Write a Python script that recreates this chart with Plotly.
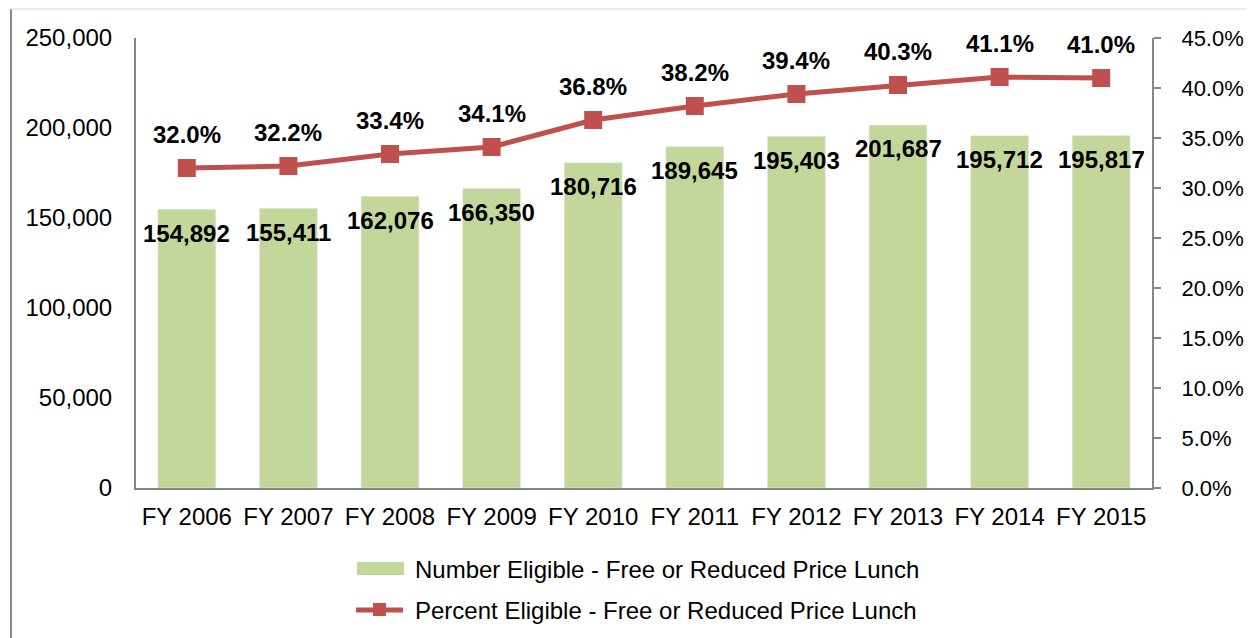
import plotly.graph_objects as go

years = ["FY 2006", "FY 2007", "FY 2008", "FY 2009", "FY 2010",
         "FY 2011", "FY 2012", "FY 2013", "FY 2014", "FY 2015"]
number_eligible = [154892, 155411, 162076, 166350, 180716,
                   189645, 195403, 201687, 195712, 195817]
percent_eligible = [0.320, 0.322, 0.334, 0.341, 0.368,
                    0.382, 0.394, 0.403, 0.411, 0.410]
left_ticks = [0, 50000, 100000, 150000, 200000, 250000]
right_ticks = [0.0, 0.05, 0.10, 0.15, 0.20, 0.25, 0.30, 0.35, 0.40, 0.45]

bar_name = "Number Eligible - Free or Reduced Price Lunch"
line_name = "Percent Eligible - Free or Reduced Price Lunch"

GREEN = "#C4D79B"
RED = "#C0504D"
AXIS = "#868686"
FONT = "Liberation Sans, Arial, sans-serif"

OFF = 8  # page body margin
W, H = 1246, 630
ML, MT = 136 - OFF, 38 - OFF
PW = 1152 - 136
PH = 488 - 38
MR = W - ML - PW
MB = H - MT - PH

fig = go.Figure()
fig.add_trace(go.Bar(x=years, y=number_eligible, marker_color=GREEN,
                     name=bar_name, showlegend=False, hoverinfo="skip"))
fig.add_trace(go.Scatter(x=years, y=percent_eligible, yaxis="y2", mode="lines+markers",
                         line=dict(color=RED, width=5),
                         marker=dict(symbol="square", size=18, color=RED),
                         name=line_name, showlegend=False, hoverinfo="skip"))

ann = []
for x, v in zip(years, number_eligible):
    ann.append(dict(x=x, y=v, xref="x", yref="y", text=f"<b>{v:,}</b>",
                    showarrow=False, yshift=-24,
                    font=dict(family=FONT, size=24, color="black")))
for x, p in zip(years, percent_eligible):
    ann.append(dict(x=x, y=p, xref="x", yref="y2", text=f"<b>{p*100:.1f}%</b>",
                    showarrow=False, yshift=34,
                    font=dict(family=FONT, size=24, color="black")))

def px2paper_x(px):
    return (px - OFF - ML) / PW

def px2paper_y(py):
    return (MT + PH - (py - OFF)) / PH

# custom legend
ann.append(dict(x=px2paper_x(413), y=px2paper_y(569), xref="paper", yref="paper",
                text=bar_name, showarrow=False, xanchor="left", yanchor="middle",
                font=dict(family=FONT, size=24, color="black")))
ann.append(dict(x=px2paper_x(413), y=px2paper_y(610), xref="paper", yref="paper",
                text=line_name, showarrow=False, xanchor="left", yanchor="middle",
                font=dict(family=FONT, size=24, color="black")))

shapes = [
    dict(type="rect", xref="paper", yref="paper",
         x0=px2paper_x(357), x1=px2paper_x(404), y0=px2paper_y(575), y1=px2paper_y(562),
         fillcolor=GREEN, line=dict(width=0)),
    dict(type="line", xref="paper", yref="paper",
         x0=px2paper_x(356), x1=px2paper_x(403), y0=px2paper_y(610), y1=px2paper_y(610),
         line=dict(color=RED, width=5)),
    dict(type="rect", xref="paper", yref="paper",
         x0=px2paper_x(373), x1=px2paper_x(386), y0=px2paper_y(616), y1=px2paper_y(603),
         fillcolor=RED, line=dict(width=0)),
    # outer frame
    dict(type="line", xref="paper", yref="paper",
         x0=px2paper_x(11), x1=px2paper_x(11), y0=px2paper_y(9), y1=px2paper_y(640),
         line=dict(color="#8a8a8a", width=2)),
    dict(type="line", xref="paper", yref="paper",
         x0=px2paper_x(11), x1=px2paper_x(1260), y0=px2paper_y(9), y1=px2paper_y(9),
         line=dict(color="#d9d9d9", width=1)),
]

fig.update_layout(
    width=W, height=H,
    margin=dict(l=ML, r=MR, t=MT, b=MB, pad=0, autoexpand=False),
    paper_bgcolor="white", plot_bgcolor="white",
    bargap=0.43,
    font=dict(family=FONT, size=24, color="black"),
    xaxis=dict(showline=True, linecolor=AXIS, linewidth=2, ticks="",
               showgrid=False, ticklabelstandoff=6, automargin=False,
               range=[-0.5, len(years) - 0.5],
               tickfont=dict(family=FONT, size=24, color="black")),
    yaxis=dict(range=[0, 250000], tickvals=left_ticks,
               ticktext=[f"{v:,}" for v in left_ticks],
               showline=True, linecolor=AXIS, linewidth=2, ticks="",
               showgrid=False, zeroline=False, ticklabelstandoff=17,
               automargin=False,
               tickfont=dict(family=FONT, size=24, color="black")),
    yaxis2=dict(range=[0, 0.45], tickvals=right_ticks,
                ticktext=[f"{v*100:.1f}%" for v in right_ticks],
                overlaying="y", side="right",
                showline=True, linecolor=AXIS, linewidth=2,
                ticks="outside", ticklen=7, tickcolor=AXIS, tickwidth=2,
                showgrid=False, zeroline=False, ticklabelstandoff=16,
                automargin=False,
                tickfont=dict(family=FONT, size=22, color="black")),
    annotations=ann,
    shapes=shapes,
    showlegend=False,
)

fig.write_html("out.html")
